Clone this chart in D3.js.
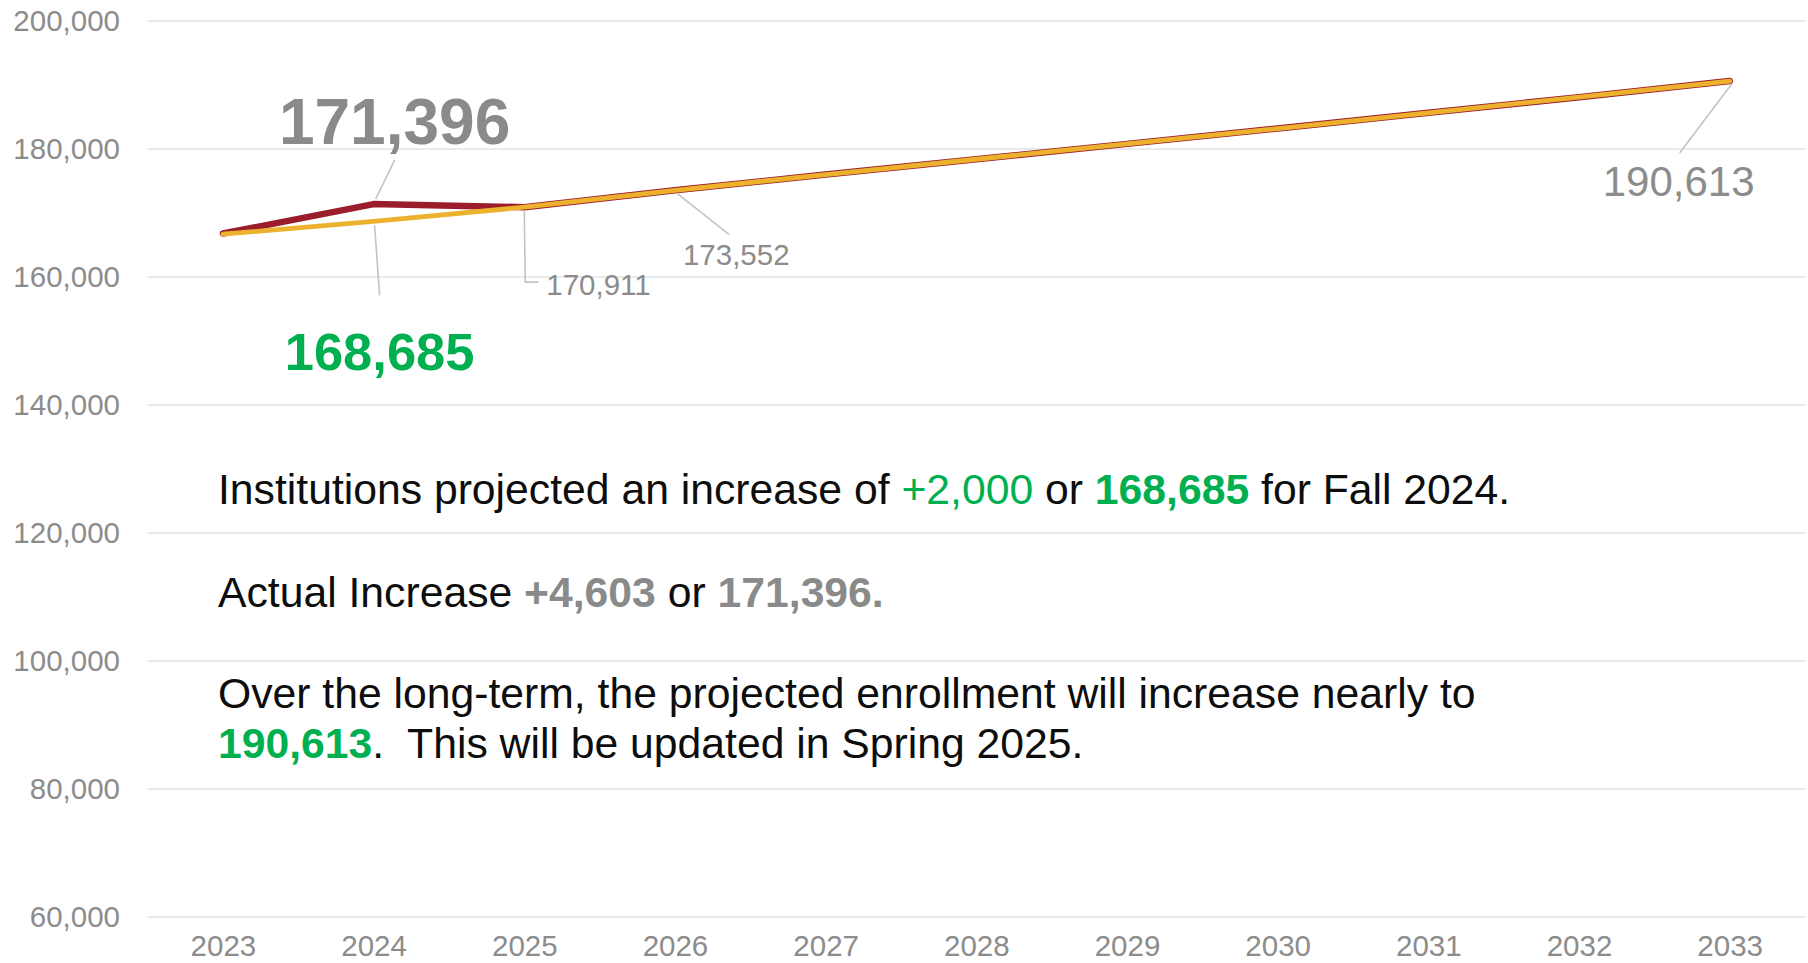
<!DOCTYPE html>
<html>
<head>
<meta charset="utf-8">
<script src="https://cdn.jsdelivr.net/npm/d3@7"></script>
<style>
  html, body { margin: 0; padding: 0; background: #fff; }
  svg { display: block; font-family: "Liberation Sans", Arial, sans-serif; }
</style>
</head>
<body>
<svg id="chart" width="1808" height="963"></svg>
<script>
// ---- data ----
const years = ["2023","2024","2025","2026","2027","2028","2029","2030","2031","2032","2033"];
const actualValues = [166793, 171396, 170911, 173552, 176000, 178400, 180800, 183200, 185650, 188100, 190613];
const projectedValues = [166685, 168685, 170911, 173552, 176000, 178400, 180800, 183200, 185650, 188100, 190613];
const yTicks = [60000, 80000, 100000, 120000, 140000, 160000, 180000, 200000];

(function () {
const svg = d3.select("#chart");
const plotLeft = 147.6, plotRight = 1805, plotTop = 21, plotBottom = 917;

const x = d3.scalePoint().domain(years).range([plotLeft, plotRight]).padding(0.5);
const y = d3.scaleLinear().domain([60000, 200000]).range([plotBottom, plotTop]);
const fmt = d3.format(",");

// gridlines
svg.append("g").selectAll("line").data(yTicks).join("line")
  .attr("x1", plotLeft).attr("x2", plotRight)
  .attr("y1", d => y(d)).attr("y2", d => y(d))
  .attr("stroke", "#e3e3e3").attr("stroke-width", 1.5);

// y axis labels
const yAxis = d3.axisLeft(y).tickValues(yTicks).tickFormat(fmt).tickSize(0).tickPadding(0);
const gy = svg.append("g").attr("transform", "translate(120,0)").call(yAxis);
gy.select(".domain").remove();
gy.selectAll("text").attr("font-size", 29.5).attr("fill", "#8c8c8c")
  .attr("font-family", "'Liberation Sans', Arial, sans-serif");

// x axis labels
const xAxis = d3.axisBottom(x).tickSize(0).tickPadding(0);
const gx = svg.append("g").attr("transform", "translate(0,935)").call(xAxis);
gx.select(".domain").remove();
gx.selectAll("text").attr("font-size", 29.5).attr("fill", "#8c8c8c").attr("dy", "0.71em")
  .attr("font-family", "'Liberation Sans', Arial, sans-serif");

// lines
const line = d3.line().x((d, i) => x(years[i])).y(d => y(d));
svg.append("path").datum(actualValues).attr("d", line)
  .attr("fill", "none").attr("stroke", "#9b1c2b").attr("stroke-width", 6.5)
  .attr("stroke-linejoin", "round").attr("stroke-linecap", "round");
svg.append("path").datum(projectedValues).attr("d", line)
  .attr("fill", "none").attr("stroke", "#ecb22e").attr("stroke-width", 4.8)
  .attr("stroke-linejoin", "round").attr("stroke-linecap", "round");

// leader lines & labels
const lead = "#c4c4c4";
function leader(pts) {
  svg.append("path").attr("d", d3.line()(pts)).attr("fill", "none")
    .attr("stroke", lead).attr("stroke-width", 1.6);
}
const px = i => x(years[i]);
// 171,396
leader([[px(1) + 2, y(actualValues[1]) - 5], [px(1) + 21, y(actualValues[1]) - 44]]);
svg.append("text").attr("x", px(1) + 21).attr("y", y(actualValues[1]) - 60)
  .attr("text-anchor", "middle").attr("font-size", 64).attr("font-weight", "bold")
  .attr("fill", "#8a8a8a").text(fmt(actualValues[1]));
// 168,685
leader([[px(1) + 1, y(projectedValues[1]) + 4], [px(1) + 6, y(projectedValues[1]) + 74]]);
svg.append("text").attr("x", px(1) + 6).attr("y", y(projectedValues[1]) + 149)
  .attr("text-anchor", "middle").attr("font-size", 52.5).attr("font-weight", "bold")
  .attr("fill", "#00b050").text(fmt(projectedValues[1]));
// 170,911
leader([[px(2), y(projectedValues[2]) + 4], [px(2) + 1, y(projectedValues[2]) + 75], [px(2) + 14, y(projectedValues[2]) + 75]]);
svg.append("text").attr("x", px(2) + 22).attr("y", y(projectedValues[2]) + 88)
  .attr("font-size", 29.5).attr("fill", "#8c8c8c").text(fmt(projectedValues[2]));
// 173,552
leader([[px(3) + 2, y(projectedValues[3]) + 3], [px(3) + 54, y(projectedValues[3]) + 44]]);
svg.append("text").attr("x", px(3) + 8).attr("y", y(projectedValues[3]) + 75)
  .attr("font-size", 29.5).attr("fill", "#8c8c8c").text(fmt(projectedValues[3]));
// 190,613
leader([[px(10) + 2, y(projectedValues[10]) + 3], [px(10) - 50, y(projectedValues[10]) + 72]]);
svg.append("text").attr("x", px(10) - 51).attr("y", y(projectedValues[10]) + 115)
  .attr("text-anchor", "middle").attr("font-size", 42).attr("fill", "#8c8c8c")
  .text(fmt(projectedValues[10]));

// narrative text block
const green = "#00b050", gray = "#8a8a8a", black = "#0d0d0d";
const lines = [
  { y: 504, parts: [
    { t: "Institutions projected an increase of ", c: black },
    { t: "+2,000", c: green },
    { t: " or ", c: black },
    { t: "168,685", c: green, b: true },
    { t: " for Fall 2024.", c: black } ] },
  { y: 607, parts: [
    { t: "Actual Increase ", c: black },
    { t: "+4,603", c: gray, b: true },
    { t: " or ", c: black },
    { t: "171,396.", c: gray, b: true } ] },
  { y: 708, parts: [
    { t: "Over the long-term, the projected enrollment will increase nearly to", c: black } ] },
  { y: 758, parts: [
    { t: "190,613", c: green, b: true },
    { t: ".  This will be updated in Spring 2025.", c: black } ] }
];
lines.forEach(l => {
  const t = svg.append("text").attr("x", 218).attr("y", l.y).attr("font-size", 42.7)
    .attr("xml:space", "preserve").style("white-space", "pre");
  l.parts.forEach(p => {
    t.append("tspan").attr("fill", p.c).attr("font-weight", p.b ? "bold" : "normal").text(p.t);
  });
});
})();
</script>
</body>
</html>
